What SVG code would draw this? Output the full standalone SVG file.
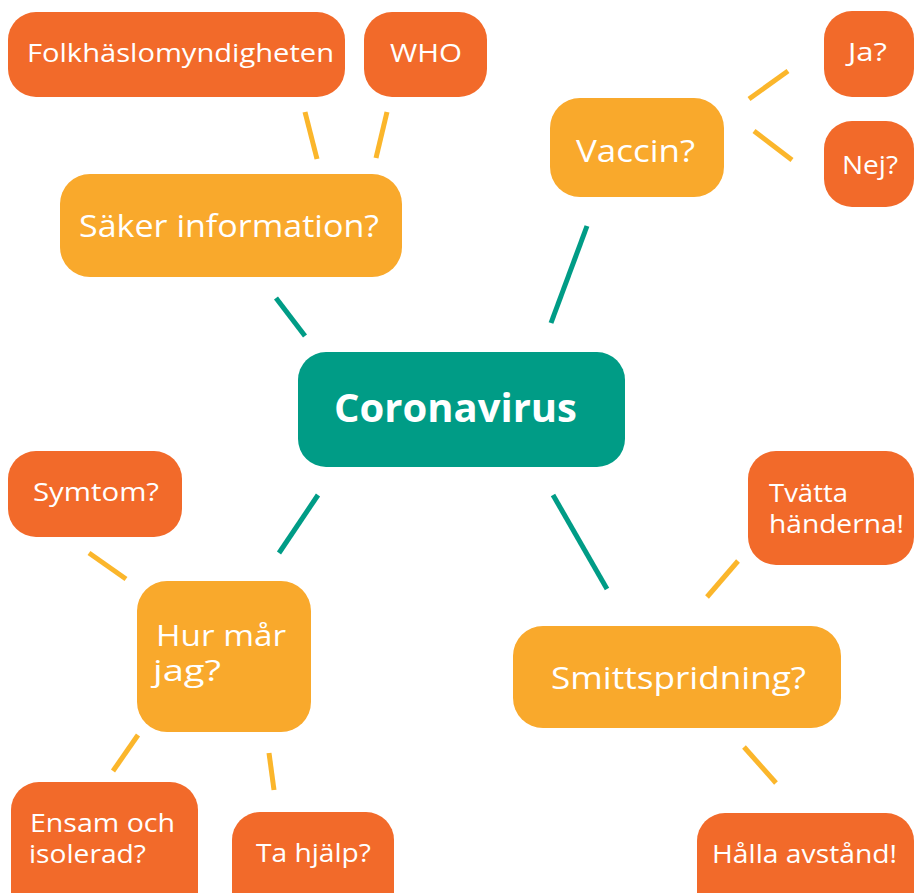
<svg xmlns="http://www.w3.org/2000/svg" width="914" height="893" viewBox="0 0 914 893">
<style>
.leaf{fill:#F26A2A}
.mid{fill:#F9A92C}
.core{fill:#009C86}
text{font-family:"Open Sans","Noto Sans","Liberation Sans",sans-serif;fill:#fff}
.s{font-size:25px}
.m{font-size:31px}
.h{font-size:29px}
.b{font-size:40px;font-weight:700}
.y{stroke:#FBB62B;stroke-width:5;fill:none}
.t{stroke:#009C86;stroke-width:5;fill:none}
</style>
<rect width="914" height="893" fill="#fff"/>
<g id="connectors">
<line class="y" x1="305" y1="112" x2="317" y2="159"/>
<line class="y" x1="387" y1="112" x2="376" y2="158"/>
<line class="t" x1="276" y1="298" x2="305" y2="336"/>
<line class="t" x1="587" y1="226" x2="551" y2="323"/>
<line class="y" x1="749" y1="99" x2="788" y2="71"/>
<line class="y" x1="754" y1="131" x2="792" y2="160"/>
<line class="t" x1="318" y1="495" x2="279" y2="553"/>
<line class="y" x1="89" y1="553" x2="126" y2="579"/>
<line class="y" x1="138" y1="735" x2="113" y2="771"/>
<line class="y" x1="269" y1="753" x2="274" y2="790"/>
<line class="t" x1="553" y1="495" x2="607" y2="589"/>
<line class="y" x1="738" y1="561" x2="707" y2="597"/>
<line class="y" x1="744" y1="747" x2="776" y2="783"/>
</g>
<g id="folk"><rect class="leaf" x="8" y="12" width="337" height="85" rx="28"/><text class="s" x="27" y="62" textLength="307" lengthAdjust="spacingAndGlyphs">Folkhäslomyndigheten</text></g>
<g id="who"><rect class="leaf" x="364" y="12" width="123" height="85" rx="28"/><text class="s" x="390" y="62" textLength="72" lengthAdjust="spacingAndGlyphs">WHO</text></g>
<g id="saker"><rect class="mid" x="60" y="174" width="342" height="103" rx="30"/><text class="m" x="79" y="237" textLength="300" lengthAdjust="spacingAndGlyphs">Säker information?</text></g>
<g id="vaccin"><rect class="mid" x="550" y="98" width="174" height="99" rx="30"/><text class="m" x="576" y="162" textLength="119" lengthAdjust="spacingAndGlyphs">Vaccin?</text></g>
<g id="ja"><rect class="leaf" x="824" y="11" width="90" height="86" rx="28"/><text class="s" x="848" y="61" textLength="39" lengthAdjust="spacingAndGlyphs">Ja?</text></g>
<g id="nej"><rect class="leaf" x="824" y="121" width="90" height="86" rx="28"/><text class="s" x="842" y="174" textLength="56" lengthAdjust="spacingAndGlyphs">Nej?</text></g>
<g id="corona"><rect class="core" x="298" y="352" width="327" height="115" rx="28"/><text class="b" x="334" y="422" textLength="243" lengthAdjust="spacingAndGlyphs">Coronavirus</text></g>
<g id="symtom"><rect class="leaf" x="8" y="451" width="174" height="86" rx="28"/><text class="s" x="33" y="501" textLength="126" lengthAdjust="spacingAndGlyphs">Symtom?</text></g>
<g id="hur"><rect class="mid" x="137" y="581" width="174" height="151" rx="30"/><text class="h" x="156" y="646" textLength="130" lengthAdjust="spacingAndGlyphs">Hur mår</text><text class="h" x="153" y="681" textLength="68" lengthAdjust="spacingAndGlyphs">jag?</text></g>
<g id="ensam"><rect class="leaf" x="11" y="782" width="187" height="140" rx="28"/><text class="s" x="30" y="832" textLength="145" lengthAdjust="spacingAndGlyphs">Ensam och</text><text class="s" x="29" y="863" textLength="117" lengthAdjust="spacingAndGlyphs">isolerad?</text></g>
<g id="tahjalp"><rect class="leaf" x="232" y="812" width="162" height="110" rx="28"/><text class="s" x="256" y="862" textLength="115" lengthAdjust="spacingAndGlyphs">Ta hjälp?</text></g>
<g id="tvatta"><rect class="leaf" x="748" y="451" width="166" height="114" rx="28"/><text class="s" x="769" y="502" textLength="79" lengthAdjust="spacingAndGlyphs">Tvätta</text><text class="s" x="769" y="533" textLength="135" lengthAdjust="spacingAndGlyphs">händerna!</text></g>
<g id="smitt"><rect class="mid" x="513" y="626" width="328" height="102" rx="30"/><text class="m" x="551" y="689" textLength="255" lengthAdjust="spacingAndGlyphs">Smittspridning?</text></g>
<g id="halla"><rect class="leaf" x="697" y="813" width="217" height="110" rx="28"/><text class="s" x="712" y="863" textLength="185" lengthAdjust="spacingAndGlyphs">Hålla avstånd!</text></g>
</svg>
